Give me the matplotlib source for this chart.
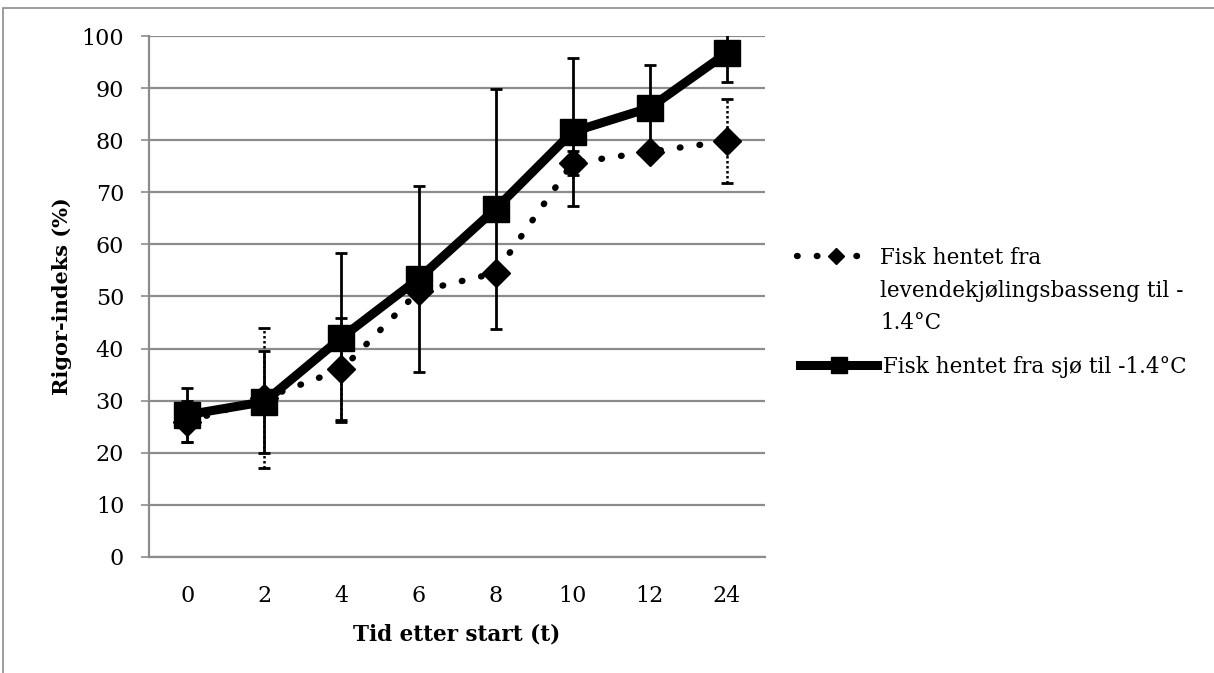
import matplotlib
matplotlib.use("Agg")
import matplotlib.pyplot as plt
from matplotlib.patches import Rectangle
import numpy as np

timer = ["0", "2", "4", "6", "8", "10", "12", "24"]

basseng = [26, 30.5, 36, 51, 54.5, 75.6, 77.8, 79.8]
basseng_err = [4, 13.5, 9.8, 0, 0, 2.3, 0, 8.1]

sjo = [27.3, 29.8, 42.1, 53.4, 66.8, 81.6, 86.2, 96.7]
sjo_err = [5.2, 9.8, 16.2, 17.8, 23.0, 14.2, 8.2, 5.6]

label_basseng = "Fisk hentet fra"
label_basseng_rest = ["levendekjølingsbasseng til -", "1.4°C"]
label_sjo = "Fisk hentet fra sjø til -1.4°C"

plt.rcParams["font.family"] = ["DejaVu Serif"]

fig = plt.figure(figsize=(12.14, 6.73), dpi=100)
ax = fig.add_axes([0.1227, 0.1724, 0.5075, 0.7741])

x = np.arange(len(timer))

# dotted series
eb1 = ax.errorbar(x, basseng, yerr=basseng_err, fmt="none", ecolor="black",
                  elinewidth=1.8, capsize=4, capthick=2, zorder=3)
eb1[2][0].set_linestyle((0, (1, 1)))
l1, = ax.plot(x, basseng, color="black", linewidth=4.6,
              linestyle=(0, (0.1, 3.0)), dash_capstyle="round",
              marker="D", markersize=14, markerfacecolor="black",
              markeredgecolor="black", zorder=4)

# solid series
ax.errorbar(x, sjo, yerr=sjo_err, fmt="none", ecolor="black",
            elinewidth=2, capsize=4.5, capthick=2, zorder=5)
l2, = ax.plot(x, sjo, color="black", linewidth=6.5, marker="s",
              markersize=19, markerfacecolor="black", markeredgecolor="black",
              zorder=6)

ax.set_xlim(-0.5, len(timer) - 0.5)
ax.set_ylim(0, 100)
ax.set_yticks(range(0, 101, 10))
ax.set_xticks(x)
ax.set_xticklabels(timer)
ax.grid(axis="y", color="#8c8c8c", linewidth=1.6)
ax.set_axisbelow(True)
for s in ["top", "right"]:
    ax.spines[s].set_visible(False)
for s in ["left", "bottom"]:
    ax.spines[s].set_color("#8c8c8c")
    ax.spines[s].set_linewidth(1.6)
ax.tick_params(axis="x", length=0, labelsize=16, pad=20)
ax.tick_params(axis="y", length=5.8, color="#8c8c8c", width=1.2, labelsize=16, pad=12)

ax.set_xlabel("Tid etter start (t)", fontsize=15.5, fontweight="bold", labelpad=12)
ax.set_ylabel("Rigor-indeks (%)", fontsize=15, fontweight="bold", labelpad=7)

leg_kw = dict(loc="center left", frameon=False, fontsize=15.5, handlelength=3.6,
              handletextpad=0.25, borderpad=0, borderaxespad=0)
leg1 = fig.legend(handles=[l1], labels=[label_basseng], markerscale=0.6,
                  bbox_to_anchor=(797 / 1214, 1 - 258 / 673), **leg_kw)
leg2 = fig.legend(handles=[l2], labels=[label_sjo], markerscale=0.63,
                  bbox_to_anchor=(800 / 1214, 1 - 367 / 673), **leg_kw)
for i, line in enumerate(label_basseng_rest):
    fig.text(880 / 1214, 1 - (291 + 32 * i) / 673, line, fontsize=15.5, va="center")

fig.patches.append(Rectangle((3 / 1214, -0.1), 1.5, 1 - 8 / 673 + 0.1,
                             transform=fig.transFigure, fill=False,
                             edgecolor="#8c8c8c", linewidth=1.2))

fig.savefig("out.png", dpi=100)
